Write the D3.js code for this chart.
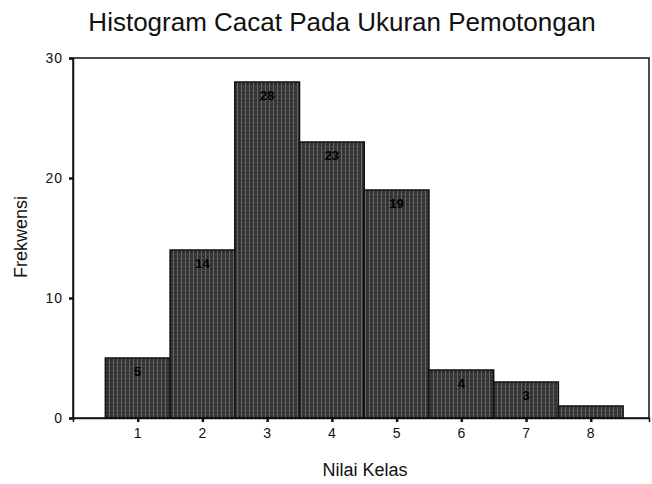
<!DOCTYPE html>
<html>
<head>
<meta charset="utf-8">
<script src="https://cdn.jsdelivr.net/npm/d3@7"></script>
<style>
  body { margin: 0; background: #fff; }
  svg { display: block; font-family: "Liberation Sans", Arial, sans-serif; }
</style>
</head>
<body>
<div id="chart"></div>
<script>
// histogram data
const kelas = [1, 2, 3, 4, 5, 6, 7, 8];
const frekwensi = [5, 14, 28, 23, 19, 4, 3, 1];
const yTicks = [0, 10, 20, 30];

const W = 652, H = 484;
const margin = { top: 58, right: 2, bottom: 66, left: 73 };

const svg = d3.select("#chart").append("svg")
    .attr("width", W)
    .attr("height", H);

// texture like the scanned print
const defs = svg.append("defs");
const pat = defs.append("pattern")
    .attr("id", "tex")
    .attr("patternUnits", "userSpaceOnUse")
    .attr("width", 4)
    .attr("height", 4);
pat.append("rect").attr("width", 4).attr("height", 4).attr("fill", "#2e2e2e");
pat.append("rect").attr("x", 1).attr("width", 1).attr("height", 4).attr("fill", "#707070");
pat.append("rect").attr("y", 2).attr("width", 4).attr("height", 1).attr("fill", "#4a4a4a");

const x = d3.scaleLinear()
    .domain([0, 8.9])
    .range([margin.left, W - margin.right - 1]);

const y = d3.scaleLinear()
    .domain([0, 30])
    .range([H - margin.bottom, margin.top]);

const step = x(2) - x(1);

// bars
svg.selectAll(".bar")
    .data(kelas)
    .enter()
    .append("rect")
    .attr("class", "bar")
    .attr("x", (d) => x(d) - step / 2)
    .attr("y", (d, i) => y(frekwensi[i]))
    .attr("width", step)
    .attr("height", (d, i) => y(0) - y(frekwensi[i]))
    .attr("fill", "url(#tex)")
    .attr("stroke", "#111")
    .attr("stroke-width", 1.5);

// value labels inside bars (8 has none visible)
svg.selectAll(".val")
    .data(kelas.filter((d, i) => frekwensi[i] > 1))
    .enter()
    .append("text")
    .attr("class", "val")
    .attr("x", (d) => x(d))
    .attr("y", (d) => y(frekwensi[d - 1]) + 18)
    .attr("text-anchor", "middle")
    .attr("font-size", 13)
    .attr("font-weight", "bold")
    .attr("fill", "#000")
    .text((d) => frekwensi[d - 1]);

// frame
svg.append("rect")
    .attr("x", x.range()[0])
    .attr("y", y.range()[1])
    .attr("width", x.range()[1] - x.range()[0])
    .attr("height", y.range()[0] - y.range()[1])
    .attr("fill", "none")
    .attr("stroke", "#111")
    .attr("stroke-width", 1.5);

// axes
const xAxis = svg.append("g")
    .attr("transform", `translate(0,${y(0)})`)
    .call(d3.axisBottom(x).tickValues(kelas).tickSize(4).tickPadding(6));

const yAxis = svg.append("g")
    .attr("transform", `translate(${x.range()[0]},0)`)
    .call(d3.axisLeft(y).tickValues(yTicks).tickSize(4).tickPadding(6));

[xAxis, yAxis].forEach((g) => {
    g.select(".domain").attr("stroke", "#111").attr("stroke-width", 1.5);
    g.selectAll(".tick line").attr("stroke", "#111").attr("stroke-width", 2.5);
    g.selectAll(".tick text")
        .attr("font-family", "Liberation Sans, Arial, sans-serif")
        .attr("font-size", 14)
        .attr("letter-spacing", 1)
        .attr("fill", "#111");
});

// title
svg.append("text")
    .attr("x", 342)
    .attr("y", 31)
    .attr("text-anchor", "middle")
    .attr("font-size", 26)
    .attr("fill", "#111")
    .text("Histogram Cacat Pada Ukuran Pemotongan");

// axis titles
svg.append("text")
    .attr("x", 365)
    .attr("y", 476)
    .attr("text-anchor", "middle")
    .attr("font-size", 18)
    .attr("fill", "#111")
    .text("Nilai Kelas");

svg.append("text")
    .attr("transform", "translate(27,237) rotate(-90)")
    .attr("text-anchor", "middle")
    .attr("font-size", 18)
    .attr("fill", "#111")
    .text("Frekwensi");
</script>
</body>
</html>
